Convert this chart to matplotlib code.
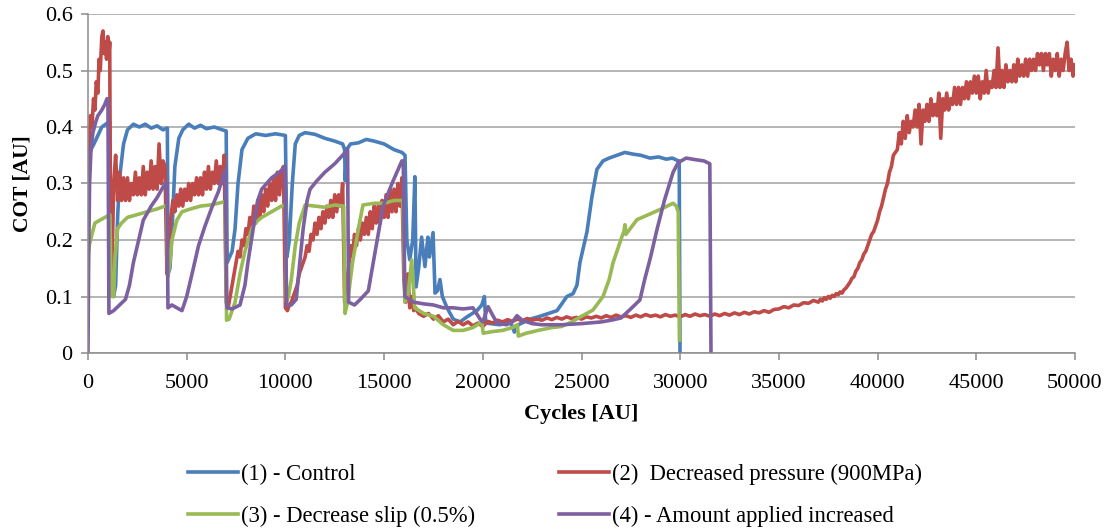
import matplotlib.pyplot as plt
import numpy as np

# (1) Control
blue_x = [0, 40, 150, 300, 500, 700, 900, 1100, 1160, 1300, 1400, 1500, 1600, 1800, 2000, 2300, 2600, 2900, 3200,
          3500, 3800, 4020, 4060, 4150, 4250, 4400, 4600, 4800, 5100, 5400, 5700, 6000, 6400, 6800, 7000, 7050, 7300,
          7450, 7600, 7800, 8100, 8500, 9000, 9500, 10000, 10080, 10200, 10350, 10500, 10700, 11000, 11500, 12000,
          12500, 12900, 13000, 13030, 13100, 13300, 13700, 14100, 14500, 15000, 15500, 15900, 16060, 16150, 16300,
          16450, 16560, 16620, 16750, 16900, 17070, 17220, 17300, 17480, 17580, 17700, 17830, 17950, 18190, 18500,
          18850, 19200, 19700, 19950, 20080, 20150, 20870, 21400, 21600, 21800, 22400, 22900, 23760, 24260, 24570,
          24770, 24920, 25280, 25530, 25780, 26090, 26400, 26800, 27200, 27600, 28000, 28470, 28900, 29300, 29600,
          29900, 29950, 29990]
blue_y = [0.2, 0.34, 0.36, 0.37, 0.385, 0.40, 0.405, 0.41, 0.11, 0.10, 0.12, 0.24, 0.31, 0.37, 0.395, 0.405, 0.40,
          0.405, 0.398, 0.402, 0.395, 0.398, 0.14, 0.15, 0.21, 0.33, 0.38, 0.395, 0.405, 0.398, 0.403, 0.397, 0.40,
          0.395, 0.393, 0.16, 0.18, 0.22, 0.30, 0.36, 0.38, 0.388, 0.385, 0.388, 0.385, 0.17, 0.20, 0.30, 0.37, 0.385,
          0.39, 0.387, 0.38, 0.375, 0.37, 0.36, 0.305, 0.36, 0.37, 0.372, 0.378, 0.375, 0.37, 0.36, 0.355, 0.35, 0.20,
          0.165, 0.20, 0.312, 0.117, 0.15, 0.205, 0.153, 0.205, 0.17, 0.213, 0.106, 0.11, 0.13, 0.10, 0.08, 0.06,
          0.055, 0.064, 0.075, 0.085, 0.10, 0.053, 0.05, 0.055, 0.037, 0.05, 0.06, 0.065, 0.075, 0.10, 0.105, 0.12,
          0.16, 0.215, 0.277, 0.325, 0.34, 0.345, 0.35, 0.355, 0.352, 0.35, 0.345, 0.347, 0.343, 0.345, 0.34, 0.34,
          0.0]

# (2) Decreased pressure: start, noisy cycle band (every 100 cycles), drop-out, flat part, rise, noisy top
red_start_x = [0, 60, 120, 200, 280, 350, 420, 500, 560, 620, 700, 760, 820, 880, 940, 1000, 1060, 1100, 1150]
red_start_y = [0.2, 0.34, 0.42, 0.40, 0.45, 0.43, 0.48, 0.46, 0.52, 0.50, 0.56, 0.57, 0.53, 0.55, 0.52, 0.56,
               0.53, 0.55, 0.13]
red_band_x = np.arange(1200, 16000, 100)
red_band_y = [0.12, 0.30, 0.35, 0.27, 0.32, 0.27, 0.31, 0.27,
              0.31, 0.27, 0.30, 0.28, 0.32, 0.28, 0.31, 0.28, 0.33, 0.28,
              0.32, 0.29, 0.34, 0.29, 0.33, 0.29, 0.37, 0.30, 0.34, 0.33,
              0.14, 0.20, 0.24, 0.27, 0.25, 0.28, 0.26, 0.29, 0.26, 0.29,
              0.27, 0.30, 0.27, 0.30, 0.28, 0.31, 0.28, 0.31, 0.28, 0.32,
              0.29, 0.33, 0.29, 0.32, 0.30, 0.34, 0.30, 0.33, 0.30, 0.35,
              0.09, 0.08, 0.10, 0.12, 0.14, 0.16, 0.18, 0.17, 0.20, 0.19,
              0.22, 0.21, 0.24, 0.22, 0.26, 0.23, 0.27, 0.24, 0.28, 0.25,
              0.29, 0.26, 0.30, 0.27, 0.31, 0.27, 0.32, 0.28, 0.32, 0.33,
              0.08, 0.075, 0.085, 0.09, 0.10, 0.11, 0.12, 0.14, 0.15, 0.16,
              0.17, 0.19, 0.18, 0.21, 0.20, 0.23, 0.21, 0.24, 0.22, 0.25,
              0.23, 0.26, 0.24, 0.27, 0.24, 0.28, 0.25, 0.28, 0.26, 0.30,
              0.09, 0.12, 0.15, 0.19, 0.17, 0.21, 0.19, 0.22, 0.20, 0.23,
              0.21, 0.24, 0.21, 0.25, 0.22, 0.26, 0.23, 0.26, 0.23, 0.27,
              0.24, 0.28, 0.24, 0.29, 0.25, 0.29, 0.25, 0.30, 0.26, 0.31]
red_drop_x = [16000, 16100, 16200, 16300, 16400, 16500, 16600, 16750]
red_drop_y = [0.13, 0.09, 0.14, 0.08, 0.10, 0.075, 0.08, 0.07]
red_flat_x = np.arange(17000, 37000, 250)
red_flat_y = [0.065, 0.07, 0.06, 0.066, 0.055, 0.06, 0.05, 0.056, 0.05, 0.055, 0.048, 0.053,
              0.047, 0.056, 0.053, 0.058, 0.055, 0.059, 0.056, 0.06, 0.057, 0.061, 0.058, 0.06,
              0.058, 0.062, 0.059, 0.063, 0.06, 0.064, 0.061, 0.063, 0.06, 0.064, 0.062, 0.065,
              0.062, 0.066, 0.063, 0.067, 0.064, 0.066, 0.063, 0.067, 0.064, 0.068, 0.065, 0.067,
              0.064, 0.068, 0.065, 0.067, 0.064, 0.068, 0.065, 0.069, 0.066, 0.068, 0.065, 0.069,
              0.066, 0.07, 0.067, 0.071, 0.068, 0.072, 0.069, 0.073, 0.071, 0.075, 0.072, 0.077,
              0.078, 0.082, 0.08, 0.085, 0.084, 0.089, 0.088, 0.093]
red_rise_x = np.arange(37000, 41000, 100)
red_rise_y = [0.09, 0.095, 0.092, 0.098, 0.095, 0.10, 0.097, 0.102, 0.10, 0.105,
              0.103, 0.108, 0.106, 0.112, 0.115, 0.12, 0.125, 0.132, 0.135, 0.145,
              0.15, 0.16, 0.165, 0.175, 0.18, 0.19, 0.20, 0.21, 0.215, 0.225,
              0.235, 0.25, 0.26, 0.275, 0.29, 0.30, 0.32, 0.33, 0.35, 0.355]
red_top_x = np.arange(41000, 50001, 100)
red_top_y = [0.36, 0.39, 0.37, 0.41, 0.38, 0.42, 0.39, 0.41, 0.40, 0.43,
             0.40, 0.44, 0.37, 0.43, 0.41, 0.44, 0.41, 0.45, 0.42, 0.44,
             0.42, 0.46, 0.38, 0.45, 0.43, 0.46, 0.43, 0.45, 0.44, 0.47,
             0.44, 0.47, 0.44, 0.47, 0.45, 0.48, 0.45, 0.48, 0.46, 0.49,
             0.46, 0.49, 0.45, 0.48, 0.46, 0.50, 0.46, 0.48, 0.47, 0.50,
             0.47, 0.54, 0.47, 0.50, 0.47, 0.51, 0.48, 0.50, 0.48, 0.51,
             0.48, 0.52, 0.49, 0.51, 0.49, 0.52, 0.49, 0.52, 0.50, 0.52,
             0.50, 0.53, 0.51, 0.53, 0.50, 0.53, 0.51, 0.53, 0.49, 0.52,
             0.50, 0.53, 0.49, 0.52, 0.50, 0.53, 0.55, 0.50, 0.52, 0.49,
             0.51]

# (3) Decrease slip
green_x = [0, 60, 200, 350, 600, 860, 1110, 1180, 1300, 1370, 1500, 1700, 2000, 2500, 3000, 3500, 3900, 3990, 4040,
           4150, 4250, 4500, 4760, 5200, 5700, 6200, 6600, 6950, 7020, 7150, 7450, 7700, 7950, 8300, 8460, 8800, 9300,
           9800, 10000, 10050, 10150, 10300, 10500, 10700, 11000, 11500, 12000, 12500, 12950, 13020, 13150, 13400,
           13700, 13930, 14500, 15000, 15500, 15950, 16050, 16200, 16400, 16550, 17000, 17500, 18000, 18500, 19000,
           19500, 19950, 20020, 20500, 21000, 21500, 21750, 21800, 22200, 22800, 23500, 24000, 24500, 25000, 25580,
           26090, 26400, 26600, 27050, 27150, 27200, 27250, 27810, 28400, 28980, 29640, 29800, 29900, 29960]
green_y = [0.17, 0.19, 0.21, 0.23, 0.235, 0.24, 0.245, 0.10, 0.10, 0.17, 0.22, 0.23, 0.24, 0.245, 0.25, 0.255,
           0.26, 0.26, 0.135, 0.16, 0.20, 0.235, 0.25, 0.255, 0.26, 0.262, 0.265, 0.268, 0.058, 0.06, 0.09, 0.14,
           0.18, 0.22, 0.23, 0.24, 0.25, 0.26, 0.262, 0.09, 0.10, 0.13, 0.19, 0.23, 0.262, 0.26, 0.258, 0.262, 0.26,
           0.07, 0.09, 0.16, 0.22, 0.262, 0.265, 0.265, 0.27, 0.27, 0.09, 0.10, 0.165, 0.08, 0.07, 0.065, 0.05, 0.04,
           0.04, 0.045, 0.055, 0.035, 0.038, 0.04, 0.045, 0.05, 0.03, 0.035, 0.04, 0.045, 0.047, 0.055, 0.065, 0.076,
           0.10, 0.13, 0.16, 0.206, 0.215, 0.227, 0.21, 0.236, 0.245, 0.254, 0.265, 0.26, 0.25, 0.023]

# (4) Amount applied increased
purple_x = [0, 30, 80, 150, 250, 400, 500, 700, 850, 960, 1010, 1060, 1300, 1600, 1900, 2100, 2300, 2500, 2800, 3200,
            3500, 3900, 4000, 4050, 4250, 4500, 4760, 5000, 5270, 5600, 5930, 6300, 6600, 6950, 7040, 7300, 7700,
            7950, 8100, 8360, 8600, 8800, 9300, 9700, 9980, 10060, 10300, 10550, 10700, 10900, 11100, 11250, 11600,
            12000, 12500, 12900, 13150, 13200, 13500, 13800, 14200, 14500, 14950, 15400, 15900, 15970, 16050, 16500,
            17000, 17500, 18000, 18500, 19000, 19500, 19860, 20000, 20270, 20450, 20720, 21200, 21500, 21730, 22000,
            22500, 23000, 24000, 25000, 26000, 26500, 27000, 27400, 27700, 27960, 28200, 28500, 28820, 29200, 29640,
            29900, 30300, 30800, 31200, 31500, 31560]
purple_y = [0.0, 0.15, 0.30, 0.36, 0.39, 0.41, 0.42, 0.43, 0.44, 0.45, 0.45, 0.07, 0.075, 0.085, 0.095, 0.12, 0.16,
            0.19, 0.235, 0.26, 0.275, 0.30, 0.30, 0.08, 0.085, 0.08, 0.075, 0.10, 0.14, 0.19, 0.225, 0.26, 0.285,
            0.325, 0.08, 0.078, 0.085, 0.12, 0.16, 0.218, 0.27, 0.29, 0.31, 0.32, 0.33, 0.085, 0.085, 0.095, 0.15,
            0.22, 0.27, 0.29, 0.305, 0.32, 0.335, 0.35, 0.36, 0.09, 0.085, 0.095, 0.11, 0.17, 0.26, 0.30, 0.34, 0.34,
            0.10, 0.09, 0.087, 0.085, 0.08, 0.08, 0.078, 0.08, 0.06, 0.055, 0.082, 0.07, 0.053, 0.05, 0.055, 0.066,
            0.058, 0.052, 0.05, 0.05, 0.052, 0.055, 0.058, 0.062, 0.075, 0.085, 0.094, 0.13, 0.17, 0.218, 0.27, 0.32,
            0.337, 0.345, 0.342, 0.34, 0.335, 0.0]

labels = ["(1) - Control", "(2)  Decreased pressure (900MPa)",
          "(3) - Decrease slip (0.5%)", "(4) - Amount applied increased"]
colors = ["#4A7EBB", "#BE4B48", "#98B954", "#7D60A0"]

red_x = np.concatenate([red_start_x, red_band_x, red_drop_x, red_flat_x, red_rise_x, red_top_x])
red_y = np.concatenate([red_start_y, red_band_y, red_drop_y, red_flat_y, red_rise_y, red_top_y])

plt.rcParams['font.family'] = ['Liberation Serif', 'DejaVu Serif']

fig = plt.figure(figsize=(11.09, 5.29), dpi=100)
ax = fig.add_axes([88 / 1109, 1 - 353 / 529, (1075 - 88) / 1109, (353 - 14) / 529])

lw = 2.6
h1, = ax.plot(blue_x, blue_y, color=colors[0], lw=lw)
h2, = ax.plot(red_x, red_y, color=colors[1], lw=lw)
h3, = ax.plot(green_x, green_y, color=colors[2], lw=lw)
h4, = ax.plot(purple_x, purple_y, color=colors[3], lw=lw)

ax.set_xlim(0, 50000)
ax.set_ylim(0, 0.6)
ax.set_xticks(np.arange(0, 50001, 5000))
ax.set_yticks(np.arange(0, 0.61, 0.1))
ax.set_yticklabels(["0", "0.1", "0.2", "0.3", "0.4", "0.5", "0.6"])
ax.grid(axis='y', color='#A0A0A0', lw=1.1)
ax.set_axisbelow(True)
for s in ['top', 'right']:
    ax.spines[s].set_visible(False)
for s in ['left', 'bottom']:
    ax.spines[s].set_color('#8C8C8C')
    ax.spines[s].set_linewidth(1.1)
ax.tick_params(axis='both', colors='#8C8C8C', labelcolor='black', labelsize=16, length=5, width=1.1)
ax.tick_params(axis='x', pad=10)
ax.tick_params(axis='y', pad=6)

ax.set_xlabel("Cycles [AU]", fontsize=16, fontweight='bold', labelpad=8)
ax.set_ylabel("COT [AU]", fontsize=15.5, fontweight='bold', labelpad=9)

# two columns: matplotlib fills column by column
fig.legend([h1, h3, h2, h4], [labels[0], labels[2], labels[1], labels[3]], ncol=2,
           loc='upper left', bbox_to_anchor=(188 / 1109, 1 - 464 / 529), frameon=False,
           fontsize=16.3, handlelength=2.2, handletextpad=0.15, columnspacing=3.7,
           labelspacing=0.9, borderaxespad=0, borderpad=0)

fig.savefig("out.png", dpi=100)
